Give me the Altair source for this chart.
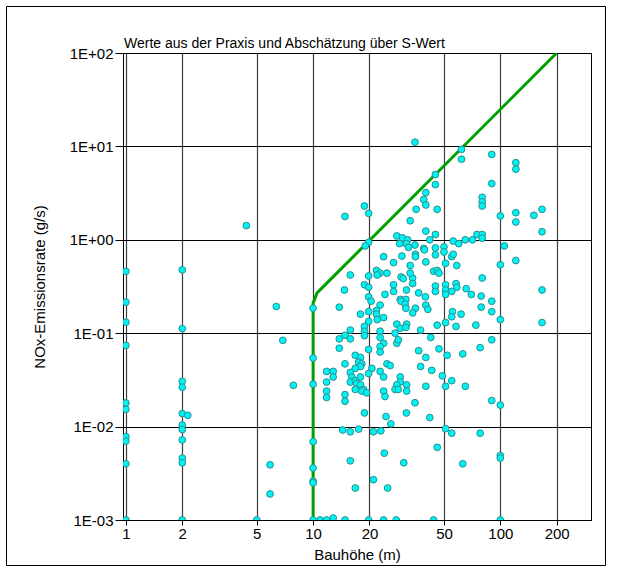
import altair as alt
import pandas as pd

# Measured building heights (m) and NOx emission rates (g/s)
height_m = [
    # x = 1 m
    1, 1, 1, 1, 1, 1, 1, 1, 1, 1,
    # x = 2 m
    2, 2, 2, 2, 2, 2, 2, 2, 2, 2, 2, 2.14,
    # 4 - 8 m
    4.4, 6.36, 6.89, 7.85, 5.89, 5.89, 5,
    # x = 10 m
    10, 10, 10, 10, 10, 10, 10, 10,
    # floor row
    10.9, 11.8, 12.8, 14.8, 19.8, 23.8, 27.8, 44, 100,
    # upper band
    35, 62, 62, 90, 121, 121, 45, 45, 90, 40, 39, 80, 80, 80, 40, 35.5, 46,
    18.8, 19.8, 14.8, 33, 167, 121, 100, 151, 121, 167, 40, 45, 28, 30, 42, 32,
    75, 80, 80, 71, 65, 56, 60, 105, 50, 29, 19.8, 19, 31.5, 32.3, 39, 45, 35,
    # 0.2 - 0.7 g/s band
    23.8, 29.8, 26.9, 35.2, 35.2, 39.3, 45, 50, 55, 56, 33, 40, 51, 58.5, 100,
    44, 46, 47, 29.5, 30.3, 34, 34, 80, 33, 15.8, 21.8, 22.8, 22, 24.8, 19.8,
    18.8, 19.8, 14.7, 26.9, 26.9, 24.2, 31.5, 36.6, 45, 45, 51, 51, 51, 58,
    58.5, 55, 65.7, 70, 79, 19.8, 39.8, 29.2, 31.3, 121, 167, 167, 90, 79, 90, 100,
    # 0.02 - 0.2 g/s band
    13.8, 20.4, 22.8, 21.8, 21.8, 22, 23.8, 17.9, 19.8, 19.8, 40, 41, 29.5, 31,
    31.3, 35.2, 34, 55.5, 61.7, 55, 28, 29.2, 31.6, 31.3, 18.8, 18.8, 18.8, 15.8,
    14.8, 15.8, 13.8, 13.8, 22.8, 22.8, 23.8, 22.8, 22.8, 28, 28.5, 27.4, 19.8,
    16.8, 17.9, 17.5, 18.2, 17.9, 14.8, 16.8, 24.8, 25.8, 22.8, 20.6, 19.8, 11.8,
    12.8, 12.8, 15.8, 16.1, 15.8, 16.8, 17.9, 17.1, 17.9, 18.6, 16.8, 23.8, 29.2,
    29.2, 28, 27.4, 28.5, 11.8, 11.8, 14.8, 18.2, 19.3, 23.8, 24.2, 31.6, 31.6, 11.8,
    37.5, 42.5, 46, 51, 58, 74, 90, 36.6, 40, 47, 52, 37.5, 43, 49, 55, 63, 78,
    40, 51, 65, 90, 100, 35,
    # below 0.02 g/s
    42, 51, 55, 78, 63, 100, 100, 46,
    14.8, 14.4, 15.8, 17.5, 18.8, 21, 23, 24.5, 26, 31.5, 15.8, 16.8, 21, 25, 30.5, 24,
]

nox_gs = [
    0.46, 0.215, 0.131, 0.074, 0.0179, 0.0153, 0.0078, 0.0070, 0.0040, 0.001,
    0.477, 0.112, 0.0305, 0.0264, 0.0138, 0.0104, 0.0093, 0.0072, 0.0046, 0.0041, 0.001, 0.0132,
    1.42, 0.193, 0.0838, 0.0277, 0.0039, 0.0019, 0.001,
    0.185, 0.0542, 0.0284, 0.0069, 0.0036, 0.0026, 0.0025, 0.001,
    0.001, 0.001, 0.00105, 0.001, 0.001, 0.001, 0.001, 0.001, 0.001,
    11.1, 9.3, 7.3, 8.2, 6.7, 5.7, 5.0, 3.9, 4.0, 3.2, 2.7, 2.85, 2.55, 2.3, 2.36, 2.12, 2.12,
    2.3, 1.92, 1.78, 1.6, 2.12, 1.95, 1.8, 1.83, 1.55, 1.22, 1.24, 1.14, 1.1, 1.05, 1.0, 1.0,
    1.14, 1.14, 1.04, 1.0, 1.0, 0.97, 0.91, 0.86, 0.84, 0.91, 0.94, 0.86, 0.91, 0.83, 0.81, 0.82, 0.88,
    0.66, 0.67, 0.57, 0.70, 0.66, 0.78, 0.69, 0.74, 0.66, 0.70, 0.53, 0.58, 0.56, 0.53, 0.54,
    0.46, 0.47, 0.44, 0.40, 0.385, 0.39, 0.34, 0.39, 0.44, 0.42, 0.47, 0.44, 0.42, 0.44, 0.41,
    0.33, 0.31, 0.29, 0.33, 0.28, 0.26, 0.29, 0.27, 0.32, 0.28, 0.33, 0.29, 0.26, 0.34,
    0.31, 0.28, 0.30, 0.26, 0.25, 0.245, 0.245, 0.23, 0.23, 0.6, 0.29, 0.13, 0.22, 0.19, 0.17, 0.14,
    0.19, 0.22, 0.20, 0.175, 0.16, 0.14, 0.147, 0.16, 0.17, 0.134, 0.20, 0.18, 0.22, 0.205,
    0.185, 0.185, 0.165, 0.17, 0.16, 0.15, 0.125, 0.113, 0.125, 0.115, 0.118, 0.105, 0.094, 0.108,
    0.095, 0.087, 0.087, 0.069, 0.105, 0.09, 0.078, 0.072, 0.063, 0.078, 0.085, 0.10, 0.067,
    0.058, 0.055, 0.049, 0.047, 0.044, 0.047, 0.042, 0.047, 0.045, 0.039, 0.042, 0.037, 0.039,
    0.039, 0.034, 0.038, 0.034, 0.030, 0.031, 0.034, 0.029, 0.028, 0.025, 0.025, 0.034, 0.034,
    0.030, 0.028, 0.025, 0.025, 0.030, 0.024, 0.022, 0.024, 0.023, 0.024, 0.021, 0.028, 0.024, 0.0205,
    0.108, 0.09, 0.122, 0.13, 0.118, 0.122, 0.085, 0.065, 0.055, 0.068, 0.058, 0.044, 0.04, 0.035, 0.031, 0.06, 0.07,
    0.027, 0.027, 0.027, 0.019, 0.017, 0.018,
    0.0125, 0.0095, 0.0085, 0.0085, 0.004, 0.0049, 0.0046, 0.0060,
    0.0187, 0.0092, 0.0088, 0.0094, 0.014, 0.0088, 0.009, 0.0128, 0.0107, 0.014, 0.0043, 0.0022, 0.0027, 0.0022, 0.0041, 0.0052,
]

# S-value estimate (upper bound curve)
limit_height = [10, 10, 10.5, 200]
limit_rate = [0.001, 0.21, 0.27, 100]

x_ticks = [1, 2, 5, 10, 20, 50, 100, 200]
y_ticks = [0.001, 0.01, 0.1, 1, 10, 100]
y_tick_labels = ["1E-03", "1E-02", "1E-01", "1E+00", "1E+01", "1E+02"]

chart_title = "Werte aus der Praxis und Abschätzung über S-Wert"
x_title = "Bauhöhe (m)"
y_title = "NOx-Emissionsrate (g/s)"

FONT = "Liberation Sans"

points = pd.DataFrame({"h": height_m, "e": nox_gs})
limit = pd.DataFrame({"h": limit_height, "e": limit_rate})

y_label_expr = " : ".join(
    f"datum.value < {v * 3} ? '{lab}'" for v, lab in zip(y_ticks[:-1], y_tick_labels[:-1])
) + f" : '{y_tick_labels[-1]}'"

x_scale = alt.Scale(type="log", domain=[0.965, 305], nice=False)
y_scale = alt.Scale(type="log", domain=[0.001, 100], nice=False)

x_axis = alt.Axis(
    values=x_ticks, format="d", title=x_title,
    grid=True, gridColor="#3c3c3c", gridWidth=1.2,
    tickSize=5, labelPadding=1, titlePadding=6,
)
y_axis = alt.Axis(
    values=y_ticks, labelExpr=y_label_expr, title=y_title,
    grid=True, gridColor="#000000", gridWidth=1,
    tickSize=8, labelPadding=2, titlePadding=22,
)

dots = alt.Chart(points).mark_point(
    filled=True, shape="circle", size=46, fill="#00f2f2",
    stroke="#2b8f8f", strokeWidth=1, opacity=1, clip=True,
).encode(
    x=alt.X("h:Q", scale=x_scale, axis=x_axis),
    y=alt.Y("e:Q", scale=y_scale, axis=y_axis),
)

curve = alt.Chart(limit).mark_line(color="#00a000", strokeWidth=3, clip=True).encode(
    x=alt.X("h:Q", scale=x_scale),
    y=alt.Y("e:Q", scale=y_scale),
    order=alt.Order("idx:Q"),
).transform_window(idx="row_number()")

# Outer border around the whole figure
frame = alt.Chart(pd.DataFrame({"k": [0]})).mark_rect(
    filled=False, stroke="#000000", strokeWidth=1, clip=False,
).encode(
    x=alt.value(-116.5), x2=alt.value(482.5),
    y=alt.value(-46.5), y2=alt.value(512.5),
)

# Heading placed just above the plot area, left-aligned with it
heading = alt.Chart(pd.DataFrame({"t": [chart_title]})).mark_text(
    align="left", baseline="alphabetic", font=FONT, fontSize=14, color="#000000",
).encode(
    x=alt.value(1), y=alt.value(-5), text="t:N",
)

chart = alt.layer(curve, dots, frame, heading).properties(
    width=468, height=467,
    padding={"left": 123, "top": 53, "right": 29, "bottom": 56},
    autosize=alt.AutoSizeParams(type="none"),
    background="#ffffff",
).configure_view(
    stroke="#000000", strokeWidth=1,
).configure_axis(
    labelFont=FONT, titleFont=FONT, labelFontSize=15, titleFontSize=15,
    labelColor="#000000", titleColor="#000000", titleFontWeight="normal",
    domainColor="#000000", tickColor="#000000",
)

chart.save("out.html", embed_options={"renderer": "svg", "actions": False})
